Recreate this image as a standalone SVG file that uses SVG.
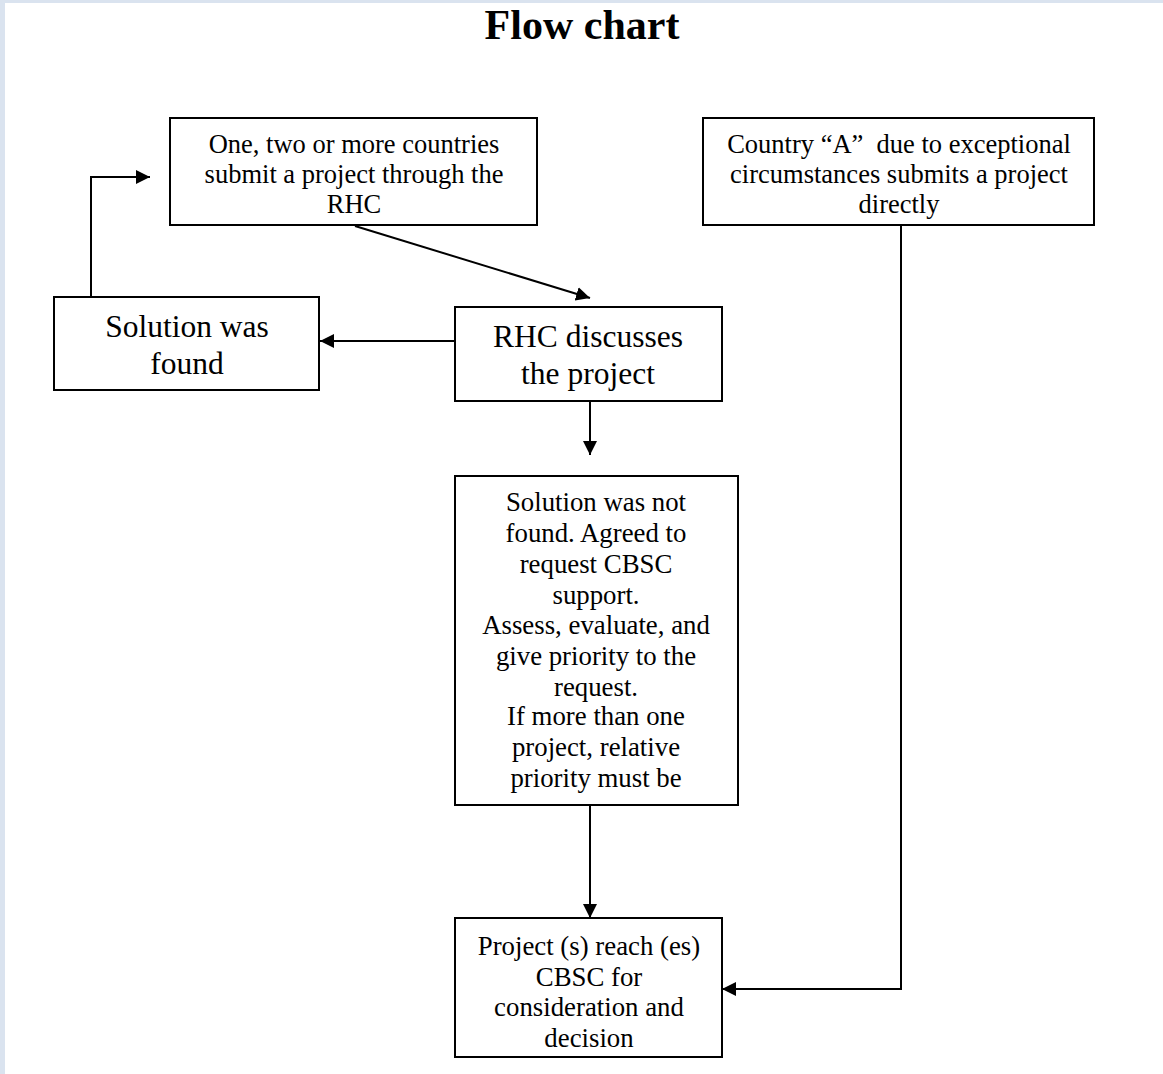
<svg xmlns="http://www.w3.org/2000/svg" width="1163" height="1074" viewBox="0 0 1163 1074">
<defs>
<style>
.box{fill:#fff;stroke:#000;stroke-width:2}
.t{fill:#000;text-anchor:middle}
.ln{fill:none;stroke:#000;stroke-width:2}
</style>
<marker id="ah" viewBox="0 0 10 10" refX="10" refY="5" markerWidth="14" markerHeight="14" markerUnits="userSpaceOnUse" orient="auto">
<path d="M0,0 L10,5 L0,10 z" fill="#000"/>
</marker>
</defs>
<rect x="0" y="0" width="1163" height="1074" fill="#dae3ef"/>
<rect x="5" y="3" width="1158" height="1071" fill="#fff"/>
<g font-family="'Liberation Serif', 'Times New Roman', Times, serif">
<text class="t" x="582" y="39" font-size="42" font-weight="bold">Flow chart</text>

<g id="connectors">
<line class="ln" x1="355" y1="226" x2="590" y2="298" marker-end="url(#ah)"/>
<line class="ln" x1="455" y1="341" x2="320" y2="341" marker-end="url(#ah)"/>
<polyline class="ln" points="91,297 91,177 150,177" marker-end="url(#ah)"/>
<line class="ln" x1="590" y1="401" x2="590" y2="455" marker-end="url(#ah)"/>
<line class="ln" x1="590" y1="805" x2="590" y2="918" marker-end="url(#ah)"/>
<polyline class="ln" points="901,225 901,989 722,989" marker-end="url(#ah)"/>
</g>

<g id="n1" font-size="26.5">
<rect class="box" x="170" y="118" width="367" height="107"/>
<text class="t" x="354" y="153">One, two or more countries</text>
<text class="t" x="354" y="183">submit a project through the</text>
<text class="t" x="354" y="213">RHC</text>
</g>
<g id="n2" font-size="26.5">
<rect class="box" x="703" y="118" width="391" height="107"/>
<text class="t" x="899" y="153" xml:space="preserve">Country “A”  due to exceptional</text>
<text class="t" x="899" y="183">circumstances submits a project</text>
<text class="t" x="899" y="213">directly</text>
</g>
<g id="n3" font-size="31.5">
<rect class="box" x="54" y="297" width="265" height="93"/>
<text class="t" x="187" y="337">Solution was</text>
<text class="t" x="187" y="374">found</text>
</g>
<g id="n4" font-size="31.5">
<rect class="box" x="455" y="307" width="267" height="94"/>
<text class="t" x="588" y="347">RHC discusses</text>
<text class="t" x="588" y="384">the project</text>
</g>
<g id="n5" font-size="26.8">
<rect class="box" x="455" y="476" width="283" height="329"/>
<text class="t" x="596" y="511">Solution was not</text>
<text class="t" x="596" y="542">found. Agreed to</text>
<text class="t" x="596" y="573">request CBSC</text>
<text class="t" x="596" y="604">support.</text>
<text class="t" x="596" y="634">Assess, evaluate, and</text>
<text class="t" x="596" y="665">give priority to the</text>
<text class="t" x="596" y="696">request.</text>
<text class="t" x="596" y="725">If more than one</text>
<text class="t" x="596" y="756">project, relative</text>
<text class="t" x="596" y="787">priority must be</text>
</g>
<g id="n6" font-size="26.8">
<rect class="box" x="455" y="918" width="267" height="139"/>
<text class="t" x="589" y="955">Project (s) reach (es)</text>
<text class="t" x="589" y="986">CBSC for</text>
<text class="t" x="589" y="1016">consideration and</text>
<text class="t" x="589" y="1047">decision</text>
</g>
</g>
</svg>
